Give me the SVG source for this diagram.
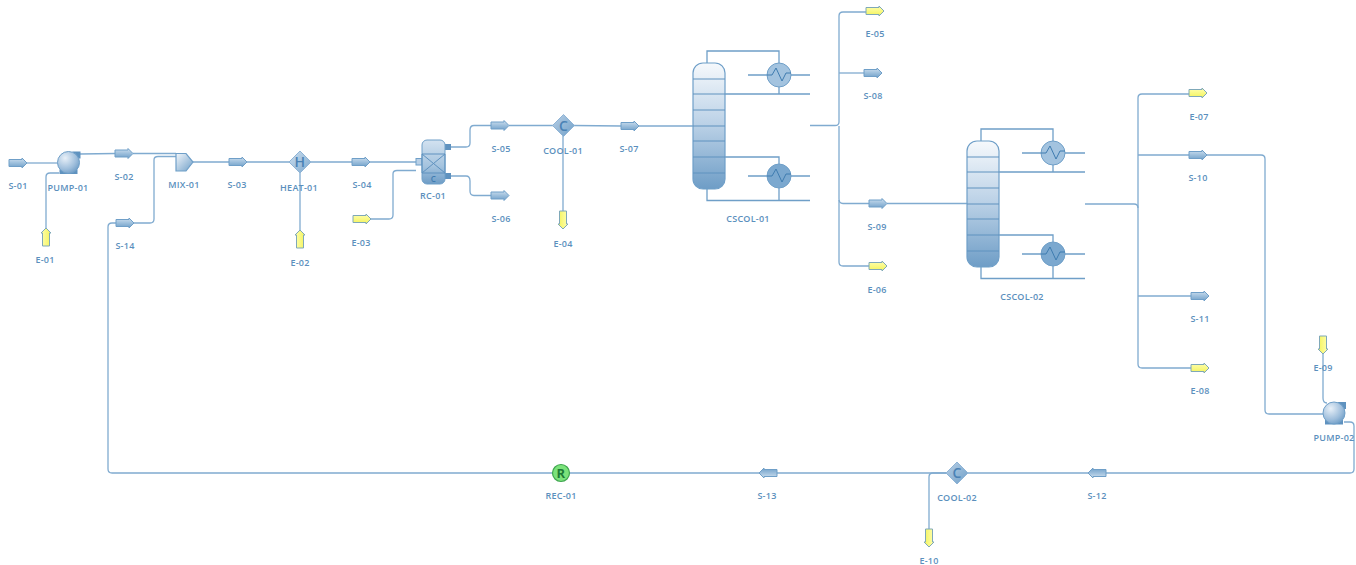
<svg xmlns="http://www.w3.org/2000/svg" width="1356" height="565" viewBox="0 0 1356 565">
<style>
text{font-family:"Open Sans","Liberation Sans",Arial,sans-serif;font-size:9px;font-weight:600;fill:#5b8fbd;text-anchor:middle;letter-spacing:.25px}
.c{fill:none;stroke:#80abd0;stroke-width:1.3}
.u{fill:none;stroke:#6f9fc8;stroke-width:1.3}
.t{stroke:#5f92bf;stroke-width:1;fill:none}
text.g{font-size:14px;fill:#4a82b5}
</style>
<defs>
<linearGradient id="sg" x1="0" y1="0" x2="0" y2="1"><stop offset="0" stop-color="#cfe0ef"/><stop offset=".5" stop-color="#9dbfdc"/><stop offset="1" stop-color="#6f9fc8"/></linearGradient>
<linearGradient id="eg" x1="0" y1="0" x2="0" y2="1"><stop offset="0" stop-color="#ffffb0"/><stop offset="1" stop-color="#f3f35a"/></linearGradient>
<linearGradient id="col1" x1="0" y1="0" x2="0" y2="1"><stop offset="0" stop-color="#f6f9fc"/><stop offset=".5" stop-color="#b9d0e6"/><stop offset="1" stop-color="#6e9dc6"/></linearGradient>
<radialGradient id="ball" cx=".35" cy=".3" r=".85"><stop offset="0" stop-color="#e8f0f8"/><stop offset=".6" stop-color="#9dbddb"/><stop offset="1" stop-color="#5f92bf"/></radialGradient>
<linearGradient id="dia" x1="0" y1="0" x2="1" y2="1"><stop offset="0" stop-color="#cfe0ef"/><stop offset="1" stop-color="#7ba8cf"/></linearGradient>
<linearGradient id="dia2" x1="0" y1="0" x2="1" y2="1"><stop offset="0" stop-color="#b9d0e6"/><stop offset="1" stop-color="#6f9fc8"/></linearGradient>
<linearGradient id="mix" x1="0" y1="0" x2="1" y2="1"><stop offset="0" stop-color="#f3f7fb"/><stop offset="1" stop-color="#6f9fc8"/></linearGradient>
<linearGradient id="rc" x1="0" y1="0" x2="0" y2="1"><stop offset="0" stop-color="#d3e2f0"/><stop offset=".6" stop-color="#a4c3de"/><stop offset="1" stop-color="#6d9cc6"/></linearGradient>
<g id="ms"><path d="M0-3.500H13V-5L18 0L13 5V3.500H0Z" fill="url(#sg)" stroke="#6f9fc8"/></g>
<g id="en"><path d="M0-3.500H13V-5L18 0L13 5V3.500H0Z" fill="url(#eg)" stroke="#7fa8b8"/></g>
<g id="pump"><rect x="-9" y="7" width="18" height="4.500" fill="#5f92bf"/><rect x="4" y="-11" width="8" height="7" fill="#5f92bf"/><circle r="11" fill="url(#ball)" stroke="#6f9fc8"/></g>
<g id="column">
<rect width="32" height="126" rx="10" fill="url(#col1)" stroke="#6f9fc8" stroke-width="1.2"/>
<path class="t" d="M0 16H32M0 31H32M0 47H32M0 63H32M0 78H32M0 94H32M0 110H32"/>
</g>
<g id="hx"><circle r="12" stroke="#6f9fc8"/><path d="M-12 0H-7L-3-7L3 6L7 -2H12" fill="none" stroke="#3f7cb0" stroke-width="1"/></g>
</defs>

<g id="connectors">
<path class="c" d="M27 163H58"/>
<path class="c" d="M80 154L115 153.500M133 153.500H176"/>
<path class="c" d="M46 228V177Q46 173 50 173H59"/>
<path class="c" d="M108 469V227Q108 223 112 223H116M133 223H150Q154 223 154 219V160Q154 156.500 158 156.500H176"/>
<path class="c" d="M193 162H229M247 162H289M311 162H352M370 162H416"/>
<path class="c" d="M300 173V230"/>
<path class="c" d="M370 219H389Q393 219 393 215V174Q393 170.500 397 170.500H416"/>
<path class="c" d="M451 147H466Q470 147 470 143V130Q470 125.500 474 125.500H491M509 125.500H553"/>
<path class="c" d="M451 176H466Q470 176 470 181V191Q470 195.500 474 195.500H491"/>
<path class="c" d="M574 125.500L621 126M638 126H693"/>
<path class="c" d="M563 136V211"/>
<path class="c" d="M810 125.500H835Q839 125.500 839 122V16Q839 12 843 12H866"/>
<path class="c" d="M839 73H864"/>
<path class="c" d="M839 126V199Q839 203.500 843 203.500H869M887 203.500H967"/>
<path class="c" d="M839 200V262Q839 266 843 266H869"/>
<path class="c" d="M1085 204H1134Q1138 204 1138 208V364Q1138 368 1142 368H1191"/>
<path class="c" d="M1138 208V98Q1138 94 1142 94H1189"/>
<path class="c" d="M1138 155H1189M1207 155H1261Q1265 155 1265 159V410Q1265 414 1269 414H1323"/>
<path class="c" d="M1138 296H1191"/>
<path class="c" d="M1323 354V398Q1323 403 1327 403"/>
<path class="c" d="M1344 422H1350Q1354 422 1354 426V469Q1354 473 1350 473H1106M1088 473H968M946 473H777M759 473H570M552 473H112Q108 473 108 469"/>
<path class="c" d="M946 473H933Q929 473 929 477V529"/>
</g>

<g id="S-01"><use href="#ms" x="9" y="163"/><text x="18" y="189">S-01</text></g>
<g id="PUMP-01"><use href="#pump" x="68.500" y="162.500"/><text x="68" y="191">PUMP-01</text></g>
<g id="S-02"><use href="#ms" x="115" y="153.500"/><text x="124" y="180">S-02</text></g>
<g id="E-01"><use href="#en" transform="translate(46 246) rotate(-90)"/><text x="45" y="263">E-01</text></g>
<g id="S-14"><use href="#ms" x="116" y="223"/><text x="125" y="249">S-14</text></g>
<g id="MIX-01"><path d="M176 153.500H186L193 162L186 171H176Z" fill="url(#mix)" stroke="#6f9fc8" stroke-width="1.2"/><text x="184" y="188">MIX-01</text></g>
<g id="S-03"><use href="#ms" x="229" y="162"/><text x="237" y="188">S-03</text></g>
<g id="HEAT-01"><path d="M300 151L311 162L300 173L289 162Z" fill="url(#dia)" stroke="#8fb4d6"/><text class="g" x="300" y="167">H</text><text x="299" y="191">HEAT-01</text></g>
<g id="E-02"><use href="#en" transform="translate(300 248) rotate(-90)"/><text x="300" y="266">E-02</text></g>
<g id="S-04"><use href="#ms" x="352" y="162"/><text x="362" y="188">S-04</text></g>
<g id="E-03"><use href="#en" x="353" y="219"/><text x="361" y="246">E-03</text></g>
<g id="RC-01">
<rect x="416" y="158.500" width="6" height="6.500" fill="#b9d0e6" stroke="#6f9fc8"/>
<rect x="445" y="144" width="6" height="6" fill="#5f92bf"/><rect x="445" y="173" width="6" height="6" fill="#5f92bf"/>
<rect x="422" y="140" width="23" height="44" rx="5" fill="url(#rc)" stroke="#6f9fc8"/>
<path d="M422 154H445V173H422ZM422 154L445 173M445 154L422 173" fill="none" stroke="#5f92bf"/>
<text x="433.500" y="181.500" style="font-size:8px;fill:#3f7cb0">C</text>
<text x="433" y="199">RC-01</text></g>
<g id="S-05"><use href="#ms" x="491" y="125.500"/><text x="501" y="152">S-05</text></g>
<g id="S-06"><use href="#ms" x="491" y="195.500"/><text x="501" y="222">S-06</text></g>
<g id="COOL-01"><path d="M563.500 114.500L574.500 125.500L563.500 136.500L552.500 125.500Z" fill="url(#dia2)" stroke="#8fb4d6"/><text class="g" x="563.500" y="130.500">C</text><text x="563" y="154">COOL-01</text></g>
<g id="E-04"><use href="#en" transform="translate(563 211) rotate(90)"/><text x="563" y="247">E-04</text></g>
<g id="S-07"><use href="#ms" x="621" y="126"/><text x="629" y="152">S-07</text></g>
<g id="CSCOL-01">
<path class="u" d="M707 63V51H779V63M725 94H810M779 87V94M748 75H767M791 75H810M725 157H779V164M748 176H767M791 176H810M707 189V200.500H810M779 188V200.500"/>
<use href="#column" x="693" y="63"/>
<use href="#hx" x="779" y="75" fill="#a3c3df"/><use href="#hx" x="779" y="176" fill="#7ba8cf"/>
<text x="748" y="222">CSCOL-01</text></g>
<g id="E-05"><use href="#en" x="866" y="11"/><text x="875" y="37">E-05</text></g>
<g id="S-08"><use href="#ms" x="864" y="73"/><text x="873" y="99">S-08</text></g>
<g id="S-09"><use href="#ms" x="869" y="203.500"/><text x="877" y="230">S-09</text></g>
<g id="E-06"><use href="#en" x="869" y="266"/><text x="877" y="293">E-06</text></g>
<g id="CSCOL-02">
<path class="u" d="M981 141V129H1053V141M999 172H1085M1053 165V172M1022 153H1041M1065 153H1085M999 235H1053V242M1022 254H1041M1065 254H1085M981 267V278.500H1085M1053 266V278.500"/>
<use href="#column" x="967" y="141"/>
<use href="#hx" x="1053" y="153" fill="#a3c3df"/><use href="#hx" x="1053" y="254" fill="#7ba8cf"/>
<text x="1022" y="300">CSCOL-02</text></g>
<g id="E-07"><use href="#en" x="1189" y="93"/><text x="1199" y="120">E-07</text></g>
<g id="S-10"><use href="#ms" x="1189" y="155"/><text x="1198" y="181">S-10</text></g>
<g id="S-11"><use href="#ms" x="1191" y="296"/><text x="1200" y="322">S-11</text></g>
<g id="E-08"><use href="#en" x="1191" y="368"/><text x="1200" y="394">E-08</text></g>
<g id="E-09"><use href="#en" transform="translate(1323 336) rotate(90)"/><text x="1323" y="371">E-09</text></g>
<g id="PUMP-02"><use href="#pump" x="1334" y="413"/><text x="1334" y="441">PUMP-02</text></g>
<g id="S-12"><use href="#ms" transform="translate(1106 473) rotate(180)"/><text x="1097" y="499">S-12</text></g>
<g id="COOL-02"><path d="M957 462L968 473L957 484L946 473Z" fill="url(#dia2)" stroke="#8fb4d6"/><text class="g" x="957" y="478">C</text><text x="957" y="501">COOL-02</text></g>
<g id="E-10"><use href="#en" transform="translate(929 529) rotate(90)"/><text x="929" y="564">E-10</text></g>
<g id="S-13"><use href="#ms" transform="translate(777 473) rotate(180)"/><text x="767" y="499">S-13</text></g>
<g id="REC-01"><circle cx="561" cy="473" r="8.500" fill="#7be27b" stroke="#3fa64f" stroke-width="1.200"/><text x="561" y="477.500" style="font-size:13px;font-weight:700;fill:#1d7a35">R</text><text x="561" y="499">REC-01</text></g>
</svg>
